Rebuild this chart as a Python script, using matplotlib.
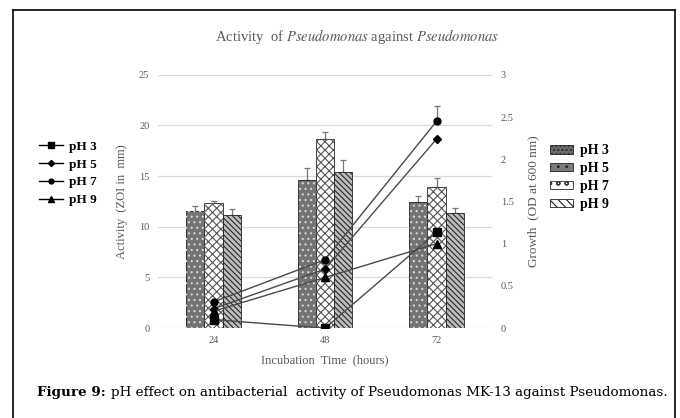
import matplotlib
matplotlib.use("Agg")
import matplotlib.pyplot as plt
from matplotlib.patches import Patch
from matplotlib.lines import Line2D

# ---- data -----------------------------------------------------------------
hours = ["24", "48", "72"]
bar_labels = ["pH 5", "pH 7", "pH 9"]
zoi_ph5 = [11.55, 14.62, 12.41]
zoi_ph7 = [12.38, 18.68, 13.96]
zoi_ph9 = [11.12, 15.41, 11.39]
zoi_err_ph5 = [0.5, 1.15, 0.6]
zoi_err_ph7 = [0.15, 0.7, 0.9]
zoi_err_ph9 = [0.6, 1.2, 0.5]

od_ph3 = [0.10, 0.0, 1.135]
od_ph5 = [0.23, 0.70, 2.24]
od_ph7 = [0.31, 0.81, 2.45]
od_ph9 = [0.20, 0.60, 1.00]
od_err_ph7 = [0.0, 0.0, 0.18]

TXT = "#595959"
serif = "Liberation Serif"
plt.rcParams["hatch.linewidth"] = 0.8

fig = plt.figure(figsize=(6.8, 4.18), dpi=100)
ax = fig.add_axes([0.232, 0.215, 0.492, 0.606])
ax2 = ax.twinx()

x = list(range(len(hours)))
w = 0.163
styles = [
    dict(fc="#737373", hc="#d8d8d8", hatch="..."),
    dict(fc="white", hc="#555555", hatch="xxxx"),
    dict(fc="#bdbdbd", hc="#262626", hatch="\\\\\\\\\\\\"),
]
series = [(zoi_ph5, zoi_err_ph5), (zoi_ph7, zoi_err_ph7), (zoi_ph9, zoi_err_ph9)]
for i, ((vals, err), st) in enumerate(zip(series, styles)):
    pos = [xi + (i - 1) * w for xi in x]
    ax.errorbar(pos, vals, yerr=[[0] * 3, err], fmt="none", ecolor="#777777",
                elinewidth=0.9, capsize=2.5, capthick=0.9, zorder=2)
    ax.bar(pos, vals, w, color=st["fc"], edgecolor="#222222", linewidth=0.6,
           zorder=3)
    ax.bar(pos, vals, w, color="none", edgecolor=st["hc"], hatch=st["hatch"],
           linewidth=0, zorder=4)

ax.set_xlim(-0.5, 2.5)
ax.set_ylim(0, 25)
ax.set_yticks([0, 5, 10, 15, 20, 25])
ax.grid(axis="y", color="#d9d9d9", linewidth=0.9, zorder=0)
ax.set_axisbelow(True)
ax.set_xticks(x)
ax.set_xticklabels(hours)
for a in (ax, ax2):
    for s in a.spines.values():
        s.set_visible(False)
    a.tick_params(length=0, labelsize=7.5, colors=TXT, pad=6)
for lab in ax.get_xticklabels() + ax.get_yticklabels() + ax2.get_yticklabels():
    lab.set_family(serif)

ax2.set_ylim(0, 3)
ax2.set_yticks([0, 0.5, 1, 1.5, 2, 2.5, 3])
ax2.set_yticklabels(["0", "0.5", "1", "1.5", "2", "2.5", "3"])

line_cfg = [
    (od_ph3, "s", 5.5, "pH 3"),
    (od_ph5, "D", 4.5, "pH 5"),
    (od_ph7, "o", 5, "pH 7"),
    (od_ph9, "^", 5.5, "pH 9"),
]
for vals, mk, ms, lab in line_cfg:
    ax2.plot(x, vals, color="#4a4a4a", linewidth=1.0, marker=mk, markersize=ms,
             markerfacecolor="black", markeredgecolor="black", zorder=6)
ax2.errorbar(x, od_ph7, yerr=[[0] * 3, od_err_ph7], fmt="none",
             ecolor="#777777", elinewidth=0.9, capsize=2.5, zorder=5)
ax2.set_zorder(ax.get_zorder() + 1)
ax2.patch.set_visible(False)

ax.set_xlabel("Incubation  Time  (hours)", family=serif, fontsize=9, color=TXT,
              labelpad=6)
ax.set_ylabel("Activity  (ZOI in  mm)", family=serif, fontsize=9, color=TXT,
              labelpad=8)
ax2.set_ylabel("Growth  (OD at 600 nm)", family=serif, fontsize=9.5, color=TXT,
               labelpad=10)

fig.text(0.525, 0.912, "Activity  of $\\it{Pseudomonas}$ against $\\it{Pseudomonas}$",
         ha="center", va="center", family=serif, fontsize=10.5, color=TXT,
         math_fontfamily="stix")

# left legend (lines)
lh = [Line2D([0], [0], color="black", linewidth=1.0, marker=mk,
             markersize=ms * 0.7, markerfacecolor="black")
      for _, mk, ms, _ in line_cfg]
fig.legend(lh, [c[3] for c in line_cfg], loc="center left",
           bbox_to_anchor=(0.04, 0.585), frameon=False, handlelength=1.8,
           handletextpad=0.5, labelspacing=0.42,
           prop={"family": serif, "size": 9.5, "weight": "bold"})

# right legend (bars)
ph = [Patch(facecolor="#6a6a6a", edgecolor="#222222", hatch="....", linewidth=0.6),
      Patch(facecolor="#7a7a7a", edgecolor="#222222", hatch="..", linewidth=0.6),
      Patch(facecolor="white", edgecolor="#333333", hatch="oo", linewidth=0.6),
      Patch(facecolor="white", edgecolor="#222222", hatch="\\\\\\\\", linewidth=0.6)]
fig.legend(ph, ["pH 3"] + bar_labels, loc="center left",
           bbox_to_anchor=(0.79, 0.575), frameon=False, handlelength=1.7,
           handleheight=0.55, handletextpad=0.5, labelspacing=0.35,
           prop={"family": serif, "size": 10, "weight": "bold"})

# outer frame (open at bottom)
frame = dict(color="black", linewidth=1.2, transform=fig.transFigure)
fig.add_artist(Line2D([0.019, 0.019], [0.0, 0.976], **frame))
fig.add_artist(Line2D([0.019, 0.993], [0.976, 0.976], **frame))
fig.add_artist(Line2D([0.993, 0.993], [0.0, 0.976], **frame))

# caption: bold lead-in followed by regular text
cap1 = fig.text(0.055, 0.062, "Figure 9: ", ha="left", va="center",
                family="DejaVu Serif", fontsize=9.7, fontweight="bold",
                color="black")
fig.canvas.draw()
bb = cap1.get_window_extent().transformed(fig.transFigure.inverted())
fig.text(bb.x1, 0.062,
         "pH effect on antibacterial  activity of Pseudomonas MK-13 against Pseudomonas.",
         ha="left", va="center", family="DejaVu Serif", fontsize=9.7,
         color="black")

fig.savefig("out.png", dpi=100)
